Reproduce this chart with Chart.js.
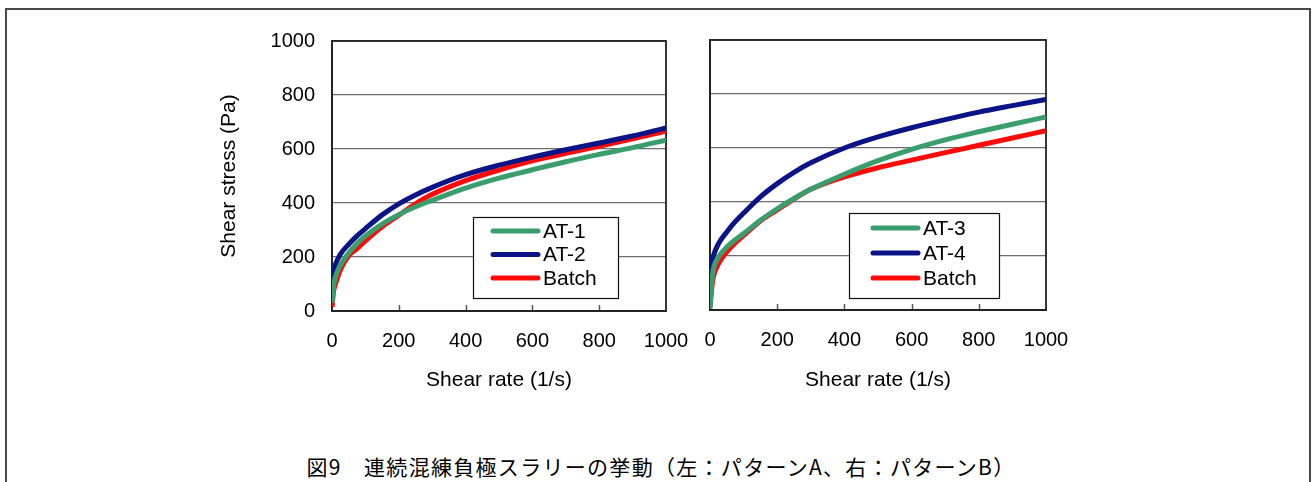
<!DOCTYPE html>
<html>
<head>
<meta charset="utf-8">
<script src="https://cdn.jsdelivr.net/npm/chart.js@4"></script>
<style>
  body { margin: 0; background: #fff; width: 1312px; height: 482px; position: relative; overflow: hidden; }
  #marco { position: absolute; left: 5px; top: 8px; width: 1302px; height: 500px; border: 2px solid #4a4a4a; }
  #boxIzq { position: absolute; left: 200px; top: 0; width: 490px; height: 420px; }
  #boxDer { position: absolute; left: 690px; top: 0; width: 400px; height: 420px; }
  #titulo { position: absolute; left: 0; width: 1322px; top: 451px; text-align: center;
            font-family: "Noto Sans CJK JP"; font-size: 21px; font-weight: 400; letter-spacing: 1.3px;
            color: #000; white-space: pre; }
</style>
</head>
<body>
<div id="marco"></div>
<div id="boxIzq"><canvas id="graficoIzq" width="490" height="420"></canvas></div>
<div id="boxDer"><canvas id="graficoDer" width="400" height="420"></canvas></div>
<div id="titulo">図9　連続混練負極スラリーの挙動（左：パターンA、右：パターンB）</div>
<script>
// datos
const shearRate = [0, 5, 10, 25, 50, 75, 100, 150, 200, 250, 300, 400, 500, 600, 700, 800, 900, 1000];

// patron A (izquierda)
const at1    = [30, 95, 125, 170, 215, 250, 278, 322, 357, 386, 410, 455, 492, 523, 553, 580, 605, 633];
const at2    = [110, 150, 172, 210, 247, 278, 305, 356, 397, 430, 458, 505, 540, 570, 597, 622, 648, 678];
const batchA = [15, 75, 98, 152, 205, 231, 260, 312, 355, 397, 432, 483, 522, 556, 584, 610, 638, 666];

// patron B (derecha)
const at3    = [5, 100, 150, 195, 233, 260, 283, 332, 375, 413, 447, 503, 553, 595, 630, 660, 688, 715];
const at4    = [100, 170, 200, 245, 289, 327, 359, 419, 468, 510, 545, 600, 641, 675, 705, 733, 757, 780];
const batchB = [10, 80, 122, 171, 215, 248, 276, 330, 371, 411, 447, 493, 527, 555, 583, 610, 637, 664];

const labelsA = ['AT-1', 'AT-2', 'Batch'];
const labelsB = ['AT-3', 'AT-4', 'Batch'];

const VERDE = '#3a9e6c';
const AZUL = '#0b1486';
const ROJO = '#ff0a0a';
const FUENTE = 'Liberation Sans, Arial, sans-serif';

function serie(label, valores, color) {
  return {
    label: label,
    data: shearRate.map((x, i) => ({ x: x, y: valores[i] })),
    borderColor: color,
    backgroundColor: color,
    borderWidth: 5,
    pointRadius: 0,
    cubicInterpolationMode: 'monotone',
    fill: false
  };
}

// marco del area, marcas hacia dentro y leyenda con caja
const marcoPlugin = {
  id: 'marco',
  beforeDatasetsDraw(chart) {
    const { ctx, chartArea: a, scales } = chart;
    ctx.save();
    ctx.strokeStyle = '#555';
    ctx.lineWidth = 1.5;
    scales.x.ticks.forEach(t => {
      if (t.value <= 0 || t.value >= 1000) return;
      const px = Math.round(scales.x.getPixelForValue(t.value)) + 0.5;
      ctx.beginPath();
      ctx.moveTo(px, a.bottom);
      ctx.lineTo(px, a.bottom - 6);
      ctx.stroke();
    });
    ctx.strokeStyle = '#222';
    ctx.lineWidth = 1.8;
    ctx.strokeRect(a.left, a.top, a.right - a.left, a.bottom - a.top);
    ctx.restore();
  },
  afterDatasetsDraw(chart, args, opts) {
    const { ctx, chartArea: a } = chart;
    const x0 = a.left + opts.x, y0 = a.top + opts.y;
    ctx.save();
    ctx.fillStyle = '#fff';
    ctx.fillRect(x0, y0, opts.w, opts.h);
    ctx.strokeStyle = '#111';
    ctx.lineWidth = 1.2;
    ctx.strokeRect(x0 + 0.5, y0 + 0.5, opts.w, opts.h);
    ctx.font = '21px ' + FUENTE;
    ctx.textBaseline = 'middle';
    chart.data.datasets.forEach((ds, i) => {
      const yy = y0 + opts.fila0 + i * opts.paso;
      ctx.strokeStyle = ds.borderColor;
      ctx.lineWidth = 5;
      ctx.lineCap = 'round';
      ctx.beginPath();
      ctx.moveTo(x0 + opts.linea0, yy);
      ctx.lineTo(x0 + opts.linea0 + 45, yy);
      ctx.stroke();
      ctx.fillStyle = '#000';
      ctx.fillText(ds.label, x0 + opts.linea0 + 50, yy + 1);
    });
    ctx.restore();
  }
};

function opciones(conEtiquetasY, anchoY, altoX, pad, leyenda) {
  return {
    responsive: false,
    animation: false,
    layout: { padding: pad },
    plugins: { legend: { display: false }, tooltip: { enabled: false }, marco: leyenda },
    scales: {
      x: {
        type: 'linear', min: 0, max: 1000,
        ticks: { stepSize: 200, padding: 18, color: '#000', font: { family: FUENTE, size: 20 },
                 callback: v => String(v) },
        grid: { display: false, drawTicks: false },
        border: { display: true, color: '#222', width: 1.8 },
        title: { display: true, text: 'Shear rate (1/s)', color: '#000',
                 font: { family: FUENTE, size: 21 }, padding: { top: 0, bottom: 27 } },
        afterFit: s => { s.height = altoX; s.paddingLeft = 0; s.paddingRight = 0; }
      },
      y: {
        min: 0, max: 1000,
        ticks: { stepSize: 200, padding: 17, display: conEtiquetasY, color: '#000', font: { family: FUENTE, size: 20 },
                 callback: v => String(v) },
        grid: { color: '#6e6e6e', lineWidth: 1.3, drawTicks: false },
        border: { display: true, color: '#222', width: 1.8 },
        title: { display: conEtiquetasY, text: 'Shear stress (Pa)', color: '#000',
                 font: { family: FUENTE, size: 21 }, padding: { top: 17, bottom: 0 } },
        afterFit: s => { s.width = anchoY; s.paddingTop = 0; s.paddingBottom = 0; }
      }
    }
  };
}

// GRAFICO PATRON A
const graficoIzq = document.getElementById('graficoIzq');
new Chart(graficoIzq, {
  type: 'line',
  data: {
    datasets: [
      serie(labelsA[0], at1, VERDE),
      serie(labelsA[1], at2, AZUL),
      serie(labelsA[2], batchA, ROJO)
    ]
  },
  options: opciones(true, 132, 109, { top: 41, right: 24, left: 0, bottom: 0 },
    { x: 141, y: 176, w: 145, h: 81, linea0: 20, fila0: 14, paso: 23.5 }),
  plugins: [marcoPlugin]
});

// GRAFICO PATRON B
const graficoDer = document.getElementById('graficoDer');
new Chart(graficoDer, {
  type: 'line',
  data: {
    datasets: [
      serie(labelsB[0], at3, VERDE),
      serie(labelsB[1], at4, AZUL),
      serie(labelsB[2], batchB, ROJO)
    ]
  },
  options: opciones(false, 20, 110, { top: 40, right: 44, left: 0, bottom: 0 },
    { x: 139, y: 173, w: 150, h: 85, linea0: 24, fila0: 15, paso: 25 }),
  plugins: [marcoPlugin]
});
</script>
</body>
</html>
